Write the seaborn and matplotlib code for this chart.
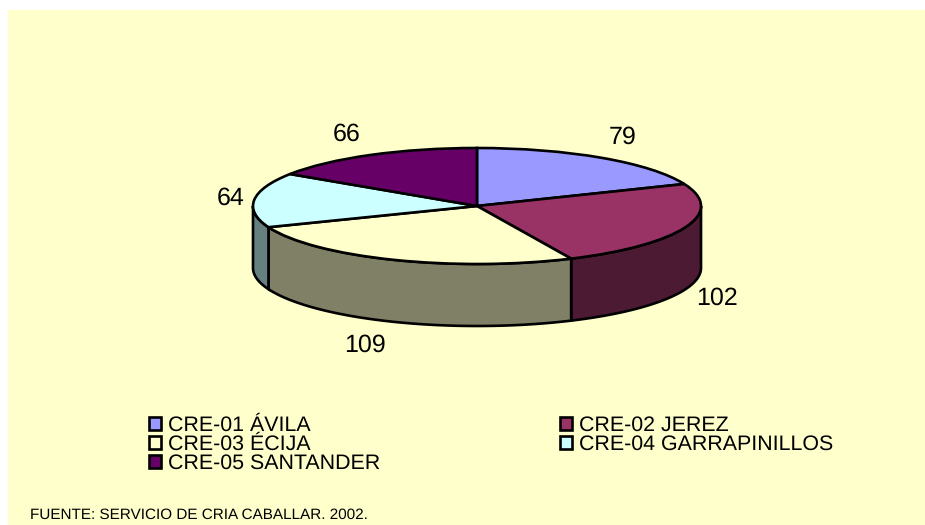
import numpy as np
import matplotlib
matplotlib.use('Agg')
import matplotlib.pyplot as plt
from matplotlib.patches import Patch, Rectangle
import seaborn as sns

categories = ['CRE-01 ÁVILA', 'CRE-02 JEREZ', 'CRE-03 ÉCIJA', 'CRE-04 GARRAPINILLOS', 'CRE-05 SANTANDER']
values = [79, 102, 109, 64, 66]
top_colors = ['#9999FF', '#993366', '#FFFFCC', '#CCFFFF', '#660066']
side_colors = ['#4D4D80', '#4D1A33', '#808066', '#668080', '#330033']
source = 'FUENTE: SERVICIO DE CRIA CABALLAR. 2002.'

W, H = 925, 525
# pie position in pixels
cx, cy, rx, ry, depth = 477, 206, 224, 58, 62
LW = 1.9

sns.set_theme(style='white')
plt.rcParams['font.family'] = ['Liberation Sans', 'DejaVu Sans']
plt.rcParams['text.hinting'] = 'none'

fig = plt.figure(figsize=(W / 100, H / 100), dpi=100, facecolor='white')
fig.patches.append(Rectangle((8 / W, 0), 1 - 8 / W, 1 - 10 / H, transform=fig.transFigure,
                             facecolor='#FFFFCC', edgecolor='none', zorder=-1))
ax = fig.add_axes([0, 0, 1, 1])
ax.patch.set_alpha(0)

# Side wall, angles run clockwise from 12 o'clock, only the front half shows
edges = np.concatenate([[0], np.cumsum(values)]) / sum(values) * 2 * np.pi
d = depth / ry
for start, end, color in zip(edges[:-1], edges[1:], side_colors):
    a0, a1 = max(start, np.pi / 2), min(end, 3 * np.pi / 2)
    if a1 <= a0:
        continue
    t = np.linspace(a0, a1, 120)
    x, y = np.sin(t), np.cos(t)
    ax.fill(np.r_[x, x[::-1]], np.r_[y, y[::-1] - d], facecolor=color, edgecolor='black', linewidth=LW)

ax.pie(values, startangle=90, counterclock=False, colors=top_colors,
       wedgeprops=dict(edgecolor='black', linewidth=LW))
ax.set_aspect('auto')
ax.set_xlim(-cx / rx, (W - cx) / rx)
ax.set_ylim((cy - H) / ry, cy / ry)
ax.set_axis_off()

# Value labels
label_pos = [(623, 137), (717, 298), (365, 345), (231, 198), (347, 134)]
for v, (px, py) in zip(values, label_pos):
    fig.text(px / W, 1 - py / H, str(v), fontsize=18, color='black', ha='center', va='center')

# Legend fills by column, so reorder to read across
handles = [Patch(facecolor=c, edgecolor='black', linewidth=LW, label=l) for c, l in zip(top_colors, categories)]
order = [0, 2, 4, 1, 3]
fig.legend([handles[i] for i in order], [categories[i] for i in order],
           ncol=2, loc='upper left', bbox_to_anchor=(148.5 / W, 1 - 416 / H),
           frameon=False, fontsize=15.4, borderpad=0, borderaxespad=0,
           labelspacing=-0.03, handlelength=0.6, handleheight=0.6, handletextpad=0.3,
           columnspacing=8.4, labelcolor='black')

fig.text(30 / W, 1 - 515 / H, source, fontsize=11, color='black', ha='left', va='center')

fig.savefig('out.png', dpi=100)
